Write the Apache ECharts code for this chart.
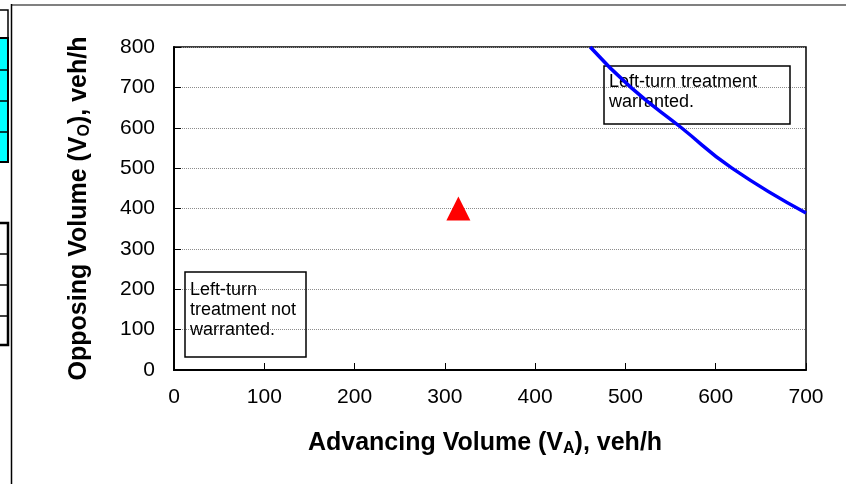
<!DOCTYPE html>
<html>
<head>
<meta charset="utf-8">
<script src="https://cdn.jsdelivr.net/npm/echarts@6/dist/echarts.min.js"></script>
<style>
html,body{margin:0;padding:0;background:#fff;}
#chart{width:846px;height:484px;}
</style>
</head>
<body>
<div id="chart"></div>
<script>
// Data
var xTicks = [0, 100, 200, 300, 400, 500, 600, 700];
var yTicks = [0, 100, 200, 300, 400, 500, 600, 700, 800];
var curveAdvancing = [461, 506, 562, 618, 700];
var curveOpposing  = [800, 700, 600, 500, 389];
var pointAdvancing = [315];
var pointOpposing  = [400];
var xTitle = 'Advancing Volume (V{sub|A}), veh/h';
var yTitle = 'Opposing Volume (V{sub|O}), veh/h';
var noteWarranted = 'Left-turn treatment\nwarranted.';
var noteNotWarranted = 'Left-turn\ntreatment not\nwarranted.';

var curveData = curveAdvancing.map(function (x, i) { return [x, curveOpposing[i]]; });
var pointData = pointAdvancing.map(function (x, i) { return [x, pointOpposing[i]]; });

var chart = echarts.init(document.getElementById('chart'), null, {renderer: 'canvas'});
var FONT = 'Liberation Sans, Arial, sans-serif';
var subStyle = {fontSize: 16, fontWeight: 'bold', fontFamily: FONT, color: '#000', lineHeight: 16, padding: [12, 0, 0, 0]};

chart.setOption({
  backgroundColor: '#fff',
  animation: false,
  grid: {left: 174, right: 40, top: 47, bottom: 114, show: true, borderColor: '#000', borderWidth: 1.5, backgroundColor: 'transparent'},
  xAxis: {
    type: 'value', min: xTicks[0], max: xTicks[xTicks.length - 1], interval: 100,
    name: xTitle, nameLocation: 'middle', nameGap: 59,
    nameTextStyle: {fontSize: 25, fontWeight: 'bold', fontFamily: FONT, color: '#000', lineHeight: 28, padding: [0, 10, 0, 0], rich: {sub: subStyle}},
    axisLine: {lineStyle: {color: '#000', width: 2}},
    axisTick: {inside: true, length: 7, lineStyle: {color: '#000', width: 1}},
    axisLabel: {fontSize: 21, fontFamily: FONT, color: '#000', margin: 17},
    splitLine: {show: false}
  },
  yAxis: {
    type: 'value', min: yTicks[0], max: yTicks[yTicks.length - 1], interval: 100,
    name: yTitle, nameLocation: 'middle', nameGap: 81,
    nameTextStyle: {fontSize: 25, fontWeight: 'bold', fontFamily: FONT, color: '#000', lineHeight: 28, rich: {sub: subStyle}},
    axisLine: {lineStyle: {color: '#000', width: 2}},
    axisTick: {inside: true, length: 7, lineStyle: {color: '#000', width: 1}},
    axisLabel: {fontSize: 21, fontFamily: FONT, color: '#000', margin: 19},
    splitLine: {show: true, lineStyle: {color: '#8c8c8c', width: 1, type: [1, 1]}}
  },
  series: [
    {type: 'line', data: curveData, smooth: 0.5, showSymbol: false, symbol: 'none', clip: true,
     lineStyle: {color: '#0000ff', width: 3.5}, z: 3},
    {type: 'scatter', data: pointData, symbol: 'triangle', symbolSize: 24,
     itemStyle: {color: '#ff0000', opacity: 1}, z: 4}
  ],
  graphic: [
    // outer chart-area frame
    {type: 'line', shape: {x1: 12, y1: 5, x2: 846, y2: 5}, style: {stroke: '#808080', lineWidth: 2}},
    {type: 'line', shape: {x1: 11.5, y1: 4, x2: 11.5, y2: 484}, style: {stroke: '#000', lineWidth: 1.5}},
    // spreadsheet cells peeking on the left
    {type: 'rect', shape: {x: -2, y: 10, width: 10, height: 28}, style: {fill: '#fff', stroke: '#000', lineWidth: 1.5}},
    {type: 'rect', shape: {x: -2, y: 38, width: 10, height: 124}, style: {fill: '#00ffff', stroke: '#000', lineWidth: 2}},
    {type: 'line', shape: {x1: 0, y1: 70, x2: 8, y2: 70}, style: {stroke: '#000', lineWidth: 1.5}},
    {type: 'line', shape: {x1: 0, y1: 101, x2: 8, y2: 101}, style: {stroke: '#000', lineWidth: 1.5}},
    {type: 'line', shape: {x1: 0, y1: 132, x2: 8, y2: 132}, style: {stroke: '#000', lineWidth: 1.5}},
    {type: 'rect', shape: {x: -3, y: 223, width: 11, height: 122}, style: {fill: '#fff', stroke: '#000', lineWidth: 2.5}},
    {type: 'line', shape: {x1: 0, y1: 254, x2: 8, y2: 254}, style: {stroke: '#000', lineWidth: 1.5}},
    {type: 'line', shape: {x1: 0, y1: 285, x2: 8, y2: 285}, style: {stroke: '#000', lineWidth: 1.5}},
    {type: 'line', shape: {x1: 0, y1: 316, x2: 8, y2: 316}, style: {stroke: '#000', lineWidth: 1.5}},
    // annotation boxes
    {type: 'rect', z: 1, shape: {x: 604, y: 66, width: 186, height: 58}, style: {fill: 'transparent', stroke: '#000', lineWidth: 1.5}},
    {type: 'text', z: 1, x: 609, y: 72, style: {text: noteWarranted, font: '18px ' + FONT, fill: '#000', lineHeight: 20, verticalAlign: 'top'}},
    {type: 'rect', z: 1, shape: {x: 185, y: 272, width: 121, height: 85}, style: {fill: 'transparent', stroke: '#000', lineWidth: 1.5}},
    {type: 'text', z: 1, x: 190, y: 280, style: {text: noteNotWarranted, font: '18px ' + FONT, fill: '#000', lineHeight: 20, verticalAlign: 'top'}}
  ]
});
</script>
</body>
</html>
